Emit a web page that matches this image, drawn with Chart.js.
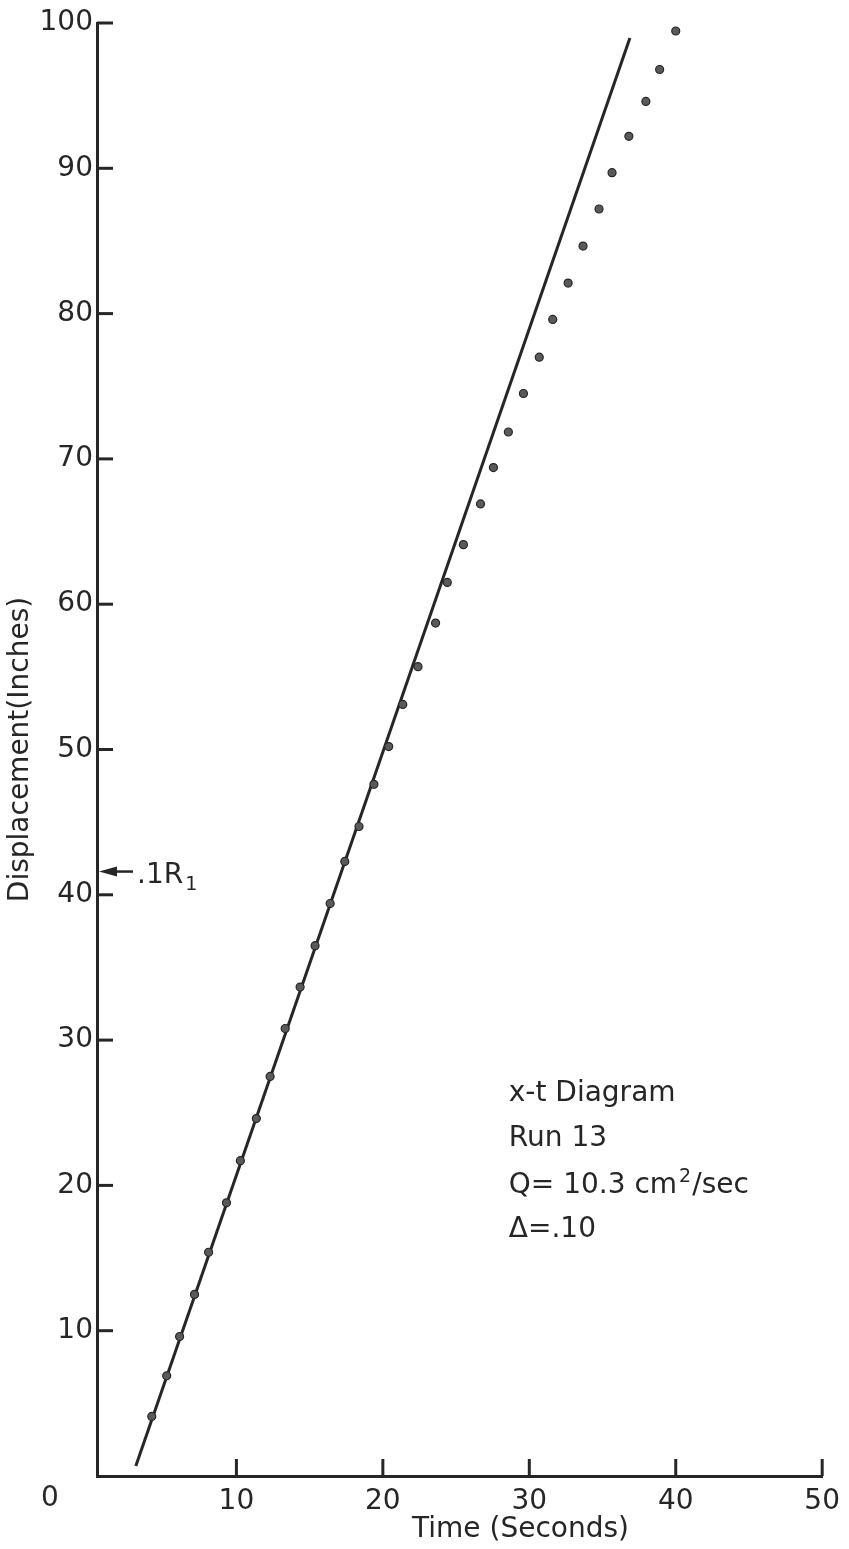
<!DOCTYPE html>
<html>
<head>
<meta charset="utf-8">
<title>x-t Diagram, Run 13</title>
<script src="https://cdn.jsdelivr.net/npm/chart.js@4.4.1/dist/chart.umd.min.js"></script>
<style>
  html, body { margin: 0; padding: 0; background: #fff; }
  canvas { display: block; }
</style>
</head>
<body>
<canvas id="xtChart" width="849" height="1549"></canvas>
<script>
// -------------------- Data --------------------
// front position readings: time (s) and displacement (in)
const timeSec = [4.22, 5.24, 6.12, 7.14, 8.1, 9.32, 10.27, 11.36, 12.3, 13.33,
                 14.35, 15.37, 16.4, 17.4, 18.37, 19.39, 20.4, 21.36, 22.4, 23.6,
                 24.4, 25.5, 26.67, 27.55, 28.57, 29.6, 30.68, 31.6, 32.65, 33.67,
                 34.76, 35.65, 36.8, 37.96, 38.9, 40.0];
const dispIn = [4.1, 6.9, 9.6, 12.5, 15.4, 18.8, 21.7, 24.6, 27.5, 30.8,
                33.65, 36.5, 39.4, 42.3, 44.7, 47.6, 50.2, 53.1, 55.7, 58.7,
                61.5, 64.1, 66.9, 69.4, 71.85, 74.5, 77.0, 79.6, 82.1, 84.65,
                87.2, 89.7, 92.2, 94.6, 96.8, 99.45];

// straight line fitted through the early readings (its two ends)
const fitTime = [3.13, 36.87];
const fitDisp = [0.69, 98.97];

const xTicks = [10, 20, 30, 40, 50];
const yTicks = [10, 20, 30, 40, 50, 60, 70, 80, 90, 100];

const markerDisp = 41.6;   // .1R1 level, marked on the displacement axis

const ink = '#262626';
const face = '"DejaVu Sans", "Noto Sans", sans-serif';

// -------------------- Extras: inward ticks, notes, arrow --------------------
const decorations = {
    id: 'decorations',
    afterDraw(chart) {
        const ctx = chart.ctx;
        const xs = chart.scales.x;
        const ys = chart.scales.y;
        const area = chart.chartArea;

        ctx.save();
        ctx.strokeStyle = ink;
        ctx.fillStyle = ink;
        ctx.lineWidth = 3;

        // tick marks point into the plot
        xTicks.forEach(v => {
            const px = xs.getPixelForValue(v);
            ctx.beginPath();
            ctx.moveTo(px, area.bottom);
            ctx.lineTo(px, area.bottom - 17);
            ctx.stroke();
        });
        yTicks.forEach(v => {
            const py = ys.getPixelForValue(v);
            ctx.beginPath();
            ctx.moveTo(area.left, py);
            ctx.lineTo(area.left + 16, py);
            ctx.stroke();
        });

        // origin label sits off to the left of the corner
        ctx.font = '28px ' + face;
        ctx.textAlign = 'center';
        ctx.textBaseline = 'top';
        ctx.fillText('0', area.left - 47, area.bottom + 9);

        // x axis title
        ctx.textBaseline = 'middle';
        ctx.fillText('Time (Seconds)', xs.getPixelForValue(29.4), area.bottom + 54);

        // arrow to the .1R1 level
        const my = ys.getPixelForValue(markerDisp);
        ctx.lineWidth = 2.5;
        ctx.beginPath();
        ctx.moveTo(area.left + 8, my);
        ctx.lineTo(area.left + 36, my);
        ctx.stroke();
        ctx.beginPath();
        ctx.moveTo(area.left + 2, my);
        ctx.lineTo(area.left + 20, my - 5);
        ctx.lineTo(area.left + 20, my + 5);
        ctx.closePath();
        ctx.fill();

        ctx.textAlign = 'left';
        ctx.textBaseline = 'alphabetic';
        ctx.font = '28px ' + face;
        ctx.fillText('.1R', area.left + 40, my + 11);
        let w = ctx.measureText('.1R').width;
        ctx.font = '19px ' + face;
        ctx.fillText('1', area.left + 42 + w, my + 18);

        // run notes
        const nx = xs.getPixelForValue(28.6);
        ctx.font = '28px ' + face;
        ctx.fillText('x-t Diagram', nx, ys.getPixelForValue(25.8));
        ctx.fillText('Run 13', nx, ys.getPixelForValue(22.7));
        const qy = ys.getPixelForValue(19.5);
        ctx.fillText('Q= 10.3 cm', nx, qy);
        w = ctx.measureText('Q= 10.3 cm').width;
        ctx.font = '19px ' + face;
        ctx.fillText('2', nx + w + 2, qy - 11);
        const w2 = ctx.measureText('2').width;
        ctx.font = '28px ' + face;
        ctx.fillText('/sec', nx + w + w2 + 3, qy);
        ctx.fillText('Δ=.10', nx, ys.getPixelForValue(16.45));

        ctx.restore();
    }
};

// -------------------- Chart --------------------
const points = timeSec.map((t, i) => ({ x: t, y: dispIn[i] }));
const fitLine = fitTime.map((t, i) => ({ x: t, y: fitDisp[i] }));

new Chart(document.getElementById('xtChart').getContext('2d'), {
    type: 'scatter',
    data: {
        datasets: [
            {
                label: 'readings',
                data: points,
                order: 0,
                pointRadius: 4,
                pointBackgroundColor: '#5a5a5a',
                pointBorderColor: ink,
                pointBorderWidth: 1.2,
                showLine: false
            },
            {
                label: 'fit',
                data: fitLine,
                order: 1,
                showLine: true,
                borderColor: ink,
                borderWidth: 3,
                pointRadius: 0
            }
        ]
    },
    options: {
        responsive: false,
        animation: false,
        layout: { padding: { top: 23, right: 24, left: 0, bottom: 0 } },
        plugins: {
            legend: { display: false },
            tooltip: { enabled: false }
        },
        scales: {
            x: {
                type: 'linear',
                min: 0.48,
                max: 50,
                afterBuildTicks: scale => { scale.ticks = xTicks.map(v => ({ value: v })); },
                afterFit: scale => { scale.height = 73; },
                grid: { display: false, drawTicks: false },
                border: { display: true, width: 3, color: ink },
                ticks: {
                    color: ink,
                    padding: 9,
                    maxRotation: 0,
                    font: { family: face, size: 28 }
                }
            },
            y: {
                type: 'linear',
                min: 0,
                max: 100,
                afterBuildTicks: scale => { scale.ticks = yTicks.map(v => ({ value: v })); },
                afterFit: scale => { scale.width = 97; },
                grid: { display: false, drawTicks: false },
                border: { display: true, width: 3, color: ink },
                ticks: {
                    color: ink,
                    padding: 4,
                    font: { family: face, size: 28 }
                },
                title: {
                    display: true,
                    text: 'Displacement(Inches)',
                    color: ink,
                    padding: { top: 4, bottom: 0 },
                    font: { family: face, size: 28 }
                }
            }
        }
    },
    plugins: [decorations]
});
</script>
</body>
</html>
